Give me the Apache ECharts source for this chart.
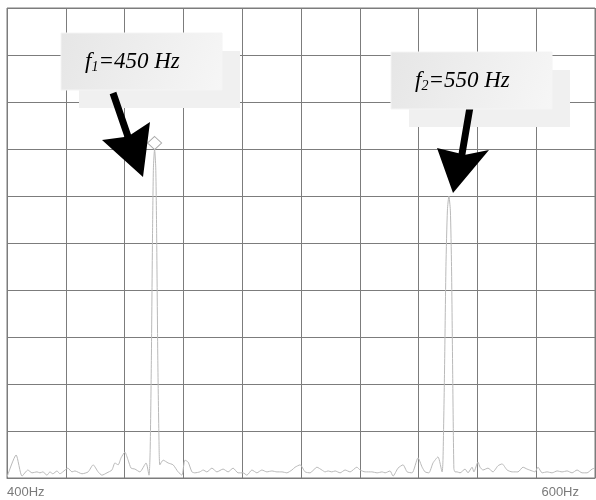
<!DOCTYPE html>
<html>
<head>
<meta charset="utf-8">
<script src="https://cdn.jsdelivr.net/npm/echarts@6/dist/echarts.min.js"></script>
<style>
  html, body { margin: 0; padding: 0; background: #ffffff; }
  #chart { width: 596px; height: 500px; }
</style>
</head>
<body>
<div id="chart"></div>
<script>
// Spectrum trace: frequency (Hz) and amplitude (screen divisions above the floor)
const freqs = [
  400.0, 403.1, 405.1, 407.1, 408.5, 410.2, 411.2, 412.2, 413.6, 414.6, 415.6, 417.0, 418.0, 419.0,
  420.7, 422.1, 423.1, 425.5, 427.6, 429.3, 431.0, 432.3, 434.0, 435.7, 436.7, 437.8, 438.8, 440.1,
  441.2, 442.2, 443.5, 445.2, 447.3, 448.3,
  448.7, 449.1, 449.5, 449.8, 450.2, 450.6, 450.9, 451.3, 451.7, 452.0,
  453.1, 454.8, 456.5, 458.2, 459.5, 460.5, 461.6, 462.9, 463.9, 465.6, 466.7, 468.0, 469.7, 471.4,
  473.5, 475.2, 476.9, 478.6, 480.3, 481.6, 483.3, 485.0, 486.7, 488.4, 490.1, 491.8, 493.5, 495.2,
  496.9, 498.0, 499.7, 501.4, 503.1, 505.4, 507.1, 508.2, 509.2, 510.5, 511.6, 513.3, 515.0, 516.7,
  519.0, 520.1, 521.8, 524.1, 525.9, 527.6, 528.6, 530.3, 531.3, 533.0, 534.7, 536.1, 537.8, 539.8,
  541.2, 542.2, 543.5, 544.9, 546.6, 548.0,
  548.3, 548.8, 549.3, 549.8, 550.3, 550.8, 551.2, 551.6, 552.0,
  552.4, 553.1, 554.1, 555.8, 556.8, 558.2, 558.8, 560.2, 560.9, 561.9, 563.6, 565.3, 567.0, 568.4,
  570.1, 571.8, 573.8, 575.5, 576.9, 578.6, 579.6, 580.6, 582.0, 583.7, 585.4, 587.1, 588.8, 590.5,
  592.2, 593.9, 595.6, 597.3, 599.0, 600.0
];
const amps = [
  0.02, 0.49, 0.04, 0.17, 0.11, 0.13, 0.11, 0.13, 0.06, 0.13, 0.09, 0.15, 0.09, 0.13,
  0.21, 0.13, 0.15, 0.09, 0.13, 0.28, 0.13, 0.06, 0.11, 0.17, 0.32, 0.28, 0.43, 0.55,
  0.38, 0.21, 0.19, 0.13, 0.32, 0.06,
  0.6, 2.5, 5.2, 6.6, 7.0, 6.6, 5.2, 2.5, 0.8, 0.28,
  0.38, 0.32, 0.28, 0.13, 0.06, 0.38, 0.34, 0.13, 0.11, 0.13, 0.17, 0.13, 0.21, 0.13,
  0.19, 0.13, 0.21, 0.11, 0.11, 0.06, 0.17, 0.11, 0.17, 0.13, 0.15, 0.13, 0.13, 0.11,
  0.17, 0.23, 0.28, 0.13, 0.11, 0.23, 0.17, 0.13, 0.15, 0.13, 0.15, 0.11, 0.17, 0.13,
  0.23, 0.17, 0.13, 0.13, 0.11, 0.13, 0.11, 0.15, 0.04, 0.21, 0.28, 0.13, 0.11, 0.43,
  0.23, 0.13, 0.11, 0.32, 0.45, 0.13,
  0.4, 2.2, 4.5, 5.7, 6.0, 5.7, 4.5, 2.2, 0.2,
  0.13, 0.13, 0.11, 0.19, 0.11, 0.23, 0.13, 0.34, 0.23, 0.17, 0.21, 0.13, 0.26, 0.30,
  0.17, 0.13, 0.13, 0.23, 0.19, 0.15, 0.13, 0.23, 0.11, 0.13, 0.11, 0.15, 0.13, 0.15,
  0.11, 0.17, 0.11, 0.11, 0.19, 0.21
];

// Axis span and the two frequency labels shown under the screen
const freqMin = 400, freqMax = 600, freqStep = 20;
const ampMin = 0, ampMax = 10, ampStep = 1;
const xTickLabels = { 400: '400Hz', 600: '600Hz' };

// Marker on the first peak
const markerFreq = 450.2, markerAmp = 7.0;

// Callout texts: symbol, subscript, remainder
const callout1 = ['f', '1', '=450 Hz'];
const callout2 = ['f', '2', '=550 Hz'];

const traceData = freqs.map((f, i) => [f, amps[i]]);

const chart = echarts.init(document.getElementById('chart'), null, { renderer: 'canvas' });

const gridColor = '#7c7c7c';

function calloutText(parts) {
  return '{f|' + parts[0] + '}{s|' + parts[1] + '}{t|' + parts[2] + '}';
}
const richStyle = {
  f: { fontFamily: 'Liberation Serif', fontStyle: 'italic', fontSize: 23, lineHeight: 26, color: '#1e1e1e' },
  s: { fontFamily: 'Liberation Serif', fontStyle: 'italic', fontSize: 14, lineHeight: 14, color: '#1e1e1e', verticalAlign: 'bottom' },
  t: { fontFamily: 'Liberation Serif', fontStyle: 'italic', fontSize: 23, lineHeight: 26, color: '#1e1e1e' }
};
const boxFill = new echarts.graphic.LinearGradient(0, 0, 1, 1, [
  { offset: 0, color: '#e6e6e6' },
  { offset: 1, color: '#f6f6f6' }
]);

function callout(x, y, parts, arrowPts) {
  return [
    { type: 'rect', shape: { x: x + 18, y: y + 18, width: 161, height: 57 }, style: { fill: '#f0f0f0' }, z: 10 },
    { type: 'polygon', shape: { points: arrowPts }, style: { fill: '#000000' }, z: 11 },
    { type: 'rect', shape: { x: x, y: y, width: 161, height: 57 },
      style: { fill: boxFill, stroke: '#f4f4f4', lineWidth: 1 }, z: 12 },
    { type: 'text', x: x + 24, y: y + 28.5, z: 13,
      style: { text: calloutText(parts), rich: richStyle, verticalAlign: 'middle', align: 'left' } }
  ];
}

chart.setOption({
  animation: false,
  backgroundColor: '#ffffff',
  grid: {
    left: 7, top: 8, width: 588, height: 470,
    show: true, borderColor: gridColor, borderWidth: 1, backgroundColor: 'transparent'
  },
  xAxis: {
    type: 'value', min: freqMin, max: freqMax, interval: freqStep,
    axisLine: { show: true, lineStyle: { color: gridColor, width: 1 } },
    axisTick: { show: false },
    splitLine: { show: true, lineStyle: { color: gridColor, width: 1 } },
    axisLabel: {
      show: true, margin: 8, color: '#7a7a7a', fontFamily: 'Liberation Sans', fontSize: 13,
      alignMinLabel: 'left', alignMaxLabel: 'right', padding: [0, 16, 0, 0],
      formatter: v => xTickLabels[v] || ''
    }
  },
  yAxis: {
    type: 'value', min: ampMin, max: ampMax, interval: ampStep,
    axisLine: { show: false }, axisTick: { show: false }, axisLabel: { show: false },
    splitLine: { show: true, lineStyle: { color: gridColor, width: 1 } }
  },
  series: [{
    type: 'line',
    data: traceData,
    showSymbol: false,
    smooth: 0.2,
    lineStyle: { color: '#b9b9b9', width: 1 },
    z: 5,
    markPoint: {
      symbol: 'diamond',
      symbolSize: [14, 13],
      symbolOffset: [0, -6],
      itemStyle: { color: 'rgba(255,255,255,0.6)', borderColor: '#a8a8a8', borderWidth: 1 },
      label: { show: false },
      data: [{ coord: [markerFreq, markerAmp] }]
    }
  }],
  graphic: [
    ...callout(61, 33, callout1,
      [[109.7, 94.2], [116.3, 91.8], [131, 134.5], [150, 122], [143, 177], [102, 140], [124.4, 136.9]]),
    ...callout(391, 52, callout2,
      [[466.6, 106.3], [473.4, 107.7], [465.4, 154.7], [489, 150], [453, 193], [437, 148], [458.6, 153.3]])
  ]
});
</script>
</body>
</html>
